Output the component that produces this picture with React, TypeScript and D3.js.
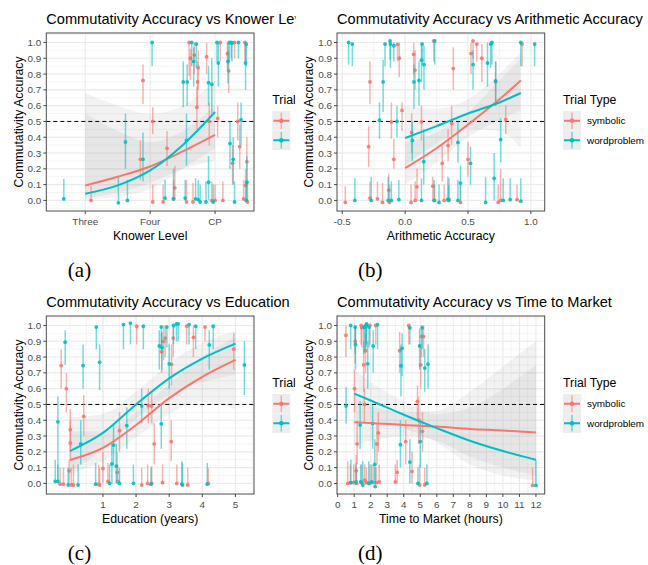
import * as d3 from "d3";
import React from "react";

const RED = "#F8766D";
const TEAL = "#00BFC4";
const FONT = "'Liberation Sans', Arial, sans-serif";

// each point: [x, mean, lower, upper]
// (a) knower level (Three = 1, Four = 2, CP = 3)
const knowerSymbolic = [
  [1.09, 0.0, 0.0, 0.09], [1.85, 0.26, 0.13, 0.38], [1.89, 0.76, 0.61, 0.86], [2.04, 0.5, 0.42, 0.59],
  [2.04, -0.01, -0.01, 0.1], [2.2, -0.01, -0.01, 0.1], [2.26, 0.33, 0.22, 0.44], [2.36, 0.01, 0.0, 0.13],
  [2.38, 0.08, 0.0, 0.22], [2.56, -0.01, -0.01, 0.13], [2.6, 1.0, 0.79, 1.0], [2.62, 0.9, 0.76, 0.96],
  [2.66, -0.01, -0.01, 0.11], [2.68, 0.92, 0.8, 1.0], [2.72, 0.59, 0.45, 0.72], [2.73, 0.75, 0.6, 0.88],
  [2.74, 0.84, 0.7, 0.95], [2.87, 0.91, 0.8, 1.0], [2.91, 0.5, 0.35, 0.62], [2.95, 0.0, 0.0, 0.12],
  [3.0, 0.0, 0.0, 0.1], [3.04, 0.52, 0.4, 0.6], [3.08, 1.0, 0.88, 1.0], [3.12, 0.0, 0.0, 0.12],
  [3.19, 0.93, 0.82, 1.0], [3.21, 0.82, 0.68, 0.95], [3.27, 0.235, 0.1, 0.35], [3.3, 1.0, 0.9, 1.0],
  [3.35, 0.5, 0.38, 0.62], [3.38, 0.34, 0.2, 0.48], [3.44, 0.01, 0.0, 0.13], [3.46, 1.0, 0.88, 1.0],
  [3.47, 0.095, 0.0, 0.2], [3.49, 0.245, 0.1, 0.4], [3.5, -0.01, -0.01, 0.12],
];
const knowerWord = [
  [0.67, 0.01, 0.0, 0.135], [1.51, -0.015, -0.015, 0.15], [1.62, 0.37, 0.2, 0.55], [1.65, 0.0, 0.0, 0.13],
  [1.89, 0.26, 0.12, 0.43], [2.03, 1.0, 0.85, 1.0], [2.23, 0.015, 0.0, 0.13], [2.36, 0.01, 0.0, 0.2],
  [2.51, 0.75, 0.59, 0.88], [2.54, 0.015, 0.0, 0.13], [2.56, 0.38, 0.22, 0.55], [2.57, 0.75, 0.6, 0.86],
  [2.64, 1.0, 0.85, 1.0], [2.67, 0.88, 0.72, 0.97], [2.7, 0.01, 0.0, 0.14], [2.71, 0.99, 0.84, 1.0],
  [2.74, 0.005, 0.0, 0.13], [2.77, -0.01, -0.01, 0.1], [2.86, -0.01, -0.01, 0.12], [2.9, 0.115, 0.0, 0.28],
  [2.9, 0.745, 0.6, 0.85], [2.95, 0.735, 0.55, 0.9], [2.97, -0.01, -0.01, 0.1], [3.03, 1.0, 0.88, 1.0],
  [3.05, 0.87, 0.72, 1.0], [3.2, 0.88, 0.74, 1.0], [3.22, 1.0, 0.88, 1.0], [3.23, 0.36, 0.2, 0.5],
  [3.25, 1.0, 0.9, 1.0], [3.26, 0.995, 0.88, 1.0], [3.28, 0.26, 0.1, 0.4], [3.3, -0.01, -0.01, 0.12],
  [3.36, 1.0, 0.9, 1.0], [3.4, 0.51, 0.35, 0.62], [3.47, 0.87, 0.7, 1.0], [3.48, 0.99, 0.85, 1.0],
  [3.49, 0.115, 0.0, 0.28], [3.48, 0.0, 0.0, 0.12],
];
const knowerFitX = [1, 1.5, 2, 2.5, 3];
const knowerFitSymbolic = [0.095, 0.15, 0.215, 0.31, 0.415];
const knowerFitWord = [0.042, 0.095, 0.19, 0.35, 0.56];
const knowerSymbolicLo = [0.015, 0.05, 0.11, 0.2, 0.25];
const knowerSymbolicHi = [0.55, 0.44, 0.37, 0.44, 0.6];
const knowerWordLo = [0.003, 0.025, 0.07, 0.2, 0.33];
const knowerWordHi = [0.68, 0.6, 0.55, 0.6, 0.76];

// (b) arithmetic accuracy
const arithSymbolic = [
  [-0.476, -0.013, -0.013, 0.09], [-0.29, 0.34, 0.21, 0.47], [-0.28, 0.75, 0.61, 0.88], [-0.28, 0.015, 0.0, 0.12],
  [-0.22, 0.01, 0.0, 0.12], [-0.18, -0.013, -0.013, 0.11], [-0.13, 0.065, 0.0, 0.17], [-0.125, -0.013, -0.013, 0.1],
  [-0.11, 0.497, 0.39, 0.62], [-0.09, 0.26, 0.2, 0.39], [-0.06, 0.987, 0.88, 1.0], [-0.047, 0.9, 0.78, 1.0],
  [-0.025, 0.57, 0.44, 0.62], [0.047, -0.013, -0.013, 0.1], [0.052, 0.43, 0.3, 0.55], [0.068, 0.925, 0.8, 1.0],
  [0.079, 0.825, 0.7, 0.95], [0.08, 0.0, 0.0, 0.12], [0.094, 0.086, 0.0, 0.2], [0.13, 0.497, 0.38, 0.6],
  [0.22, 0.09, 0.0, 0.15], [0.228, 1.01, 0.88, 1.01], [0.235, 0.0, 0.0, 0.1], [0.295, 0.234, 0.12, 0.35],
  [0.31, 0.0, 0.0, 0.1], [0.342, 0.347, 0.25, 0.45], [0.35, 0.005, 0.0, 0.14], [0.37, 0.487, 0.35, 0.6],
  [0.383, 0.835, 0.7, 0.97], [0.44, -0.013, -0.013, 0.1], [0.5, 0.26, 0.15, 0.37], [0.524, 0.93, 0.8, 1.0],
  [0.54, 1.01, 0.9, 1.01], [0.57, 0.99, 0.88, 1.0], [0.61, 0.9, 0.75, 0.99], [0.72, 0.75, 0.6, 0.88],
  [0.74, -0.013, -0.013, 0.1], [0.76, 0.0, 0.0, 0.2], [0.8, 0.513, 0.42, 0.6], [0.89, 0.005, 0.0, 0.1],
  [0.93, 0.99, 0.85, 1.0],
];
const arithWord = [
  [-0.45, 1.0, 0.86, 1.0], [-0.42, 0.99, 0.85, 1.0], [-0.4, 0.0, 0.0, 0.14], [-0.27, 0.0, 0.0, 0.15],
  [-0.204, 0.508, 0.39, 0.62], [-0.175, 0.75, 0.56, 0.89], [-0.16, 0.99, 0.85, 1.0], [-0.135, 0.0, 0.0, 0.15],
  [-0.12, 1.01, 0.89, 1.01], [-0.117, 0.99, 0.84, 1.0], [-0.11, 0.0, 0.0, 0.12], [-0.09, 0.98, 0.88, 1.0],
  [-0.065, 0.5, 0.4, 0.6], [-0.05, 0.005, 0.0, 0.13], [0.057, 0.38, 0.25, 0.5], [0.07, 0.75, 0.58, 0.86],
  [0.11, 0.76, 0.6, 0.88], [0.13, 0.888, 0.75, 1.0], [0.13, 0.0, 0.0, 0.14], [0.135, 0.99, 0.86, 1.0],
  [0.148, 0.245, 0.1, 0.45], [0.15, 0.86, 0.7, 0.98], [0.23, 0.0, 0.0, 0.13], [0.235, 1.01, 0.86, 1.01],
  [0.27, -0.013, -0.013, 0.1], [0.34, 0.008, 0.0, 0.15], [0.345, 0.0, 0.0, 0.1], [0.42, 0.367, 0.24, 0.5],
  [0.42, 0.0, 0.0, 0.13], [0.44, 0.11, 0.0, 0.22], [0.52, 0.235, 0.1, 0.34], [0.54, 0.86, 0.7, 0.95],
  [0.64, -0.013, -0.013, 0.15], [0.655, 0.87, 0.72, 1.0], [0.68, 0.99, 0.84, 1.0], [0.69, 1.0, 0.86, 1.0],
  [0.708, 0.14, 0.0, 0.3], [0.72, 0.757, 0.6, 0.88], [0.76, 0.385, 0.24, 0.52], [0.78, 0.0, 0.0, 0.14],
  [0.835, 0.005, 0.0, 0.14], [0.92, 1.0, 0.85, 1.0], [0.92, -0.005, -0.005, 0.14], [1.03, 0.99, 0.85, 1.0],
];
const arithFitX = [0, 0.25, 0.5, 0.75, 0.92];
const arithFitSymbolic = [0.205, 0.33, 0.48, 0.64, 0.76];
const arithFitWord = [0.395, 0.47, 0.55, 0.62, 0.68];
const arithSymbolicLo = [0.1, 0.24, 0.4, 0.51, 0.57];
const arithSymbolicHi = [0.37, 0.43, 0.56, 0.76, 0.9];
const arithWordLo = [0.22, 0.36, 0.45, 0.44, 0.33];
const arithWordHi = [0.6, 0.58, 0.64, 0.8, 0.94];

// (c) education
const eduSymbolic = [
  [-0.29, -0.005, -0.005, 0.1], [-0.26, 0.746, 0.6, 0.85], [-0.19, -0.005, -0.005, 0.1], [-0.105, 0.6, 0.45, 0.7],
  [-0.02, 0.08, 0.0, 0.15], [0.015, 0.256, 0.15, 0.4], [0.015, 0.34, 0.22, 0.47], [0.045, -0.01, -0.01, 0.1],
  [0.11, -0.01, -0.01, 0.12], [0.42, 0.425, 0.3, 0.56], [0.87, -0.005, -0.005, 0.12], [0.9, -0.01, -0.01, 0.1],
  [1.0, 0.095, 0.0, 0.2], [1.15, 0.013, 0.0, 0.13], [1.43, 0.07, 0.0, 0.2], [1.45, 0.013, 0.0, 0.12],
  [1.5, 0.334, 0.2, 0.45], [2.02, 0.995, 0.88, 1.0], [2.17, -0.01, -0.01, 0.1], [2.35, 0.0, 0.0, 0.12],
  [2.37, 0.493, 0.38, 0.6], [2.47, 0.49, 0.38, 0.58], [2.47, 0.0, 0.0, 0.11], [2.55, 0.25, 0.12, 0.38],
  [2.77, 0.833, 0.7, 0.95], [2.8, 0.005, 0.0, 0.12], [2.83, 0.9, 0.78, 1.0], [2.88, 0.92, 0.8, 1.0],
  [3.06, 0.264, 0.14, 0.4], [3.07, 0.754, 0.62, 0.88], [3.12, 0.92, 0.8, 1.0], [3.23, 0.0, 0.0, 0.12],
  [3.53, 0.995, 0.88, 1.0], [3.56, -0.01, -0.01, 0.1], [3.73, 0.925, 0.8, 1.0], [4.08, 0.99, 0.9, 1.0],
  [4.18, 0.0, 0.0, 0.1], [4.95, 0.85, 0.72, 0.95],
];
const eduWord = [
  [-0.44, 0.013, 0.0, 0.15], [-0.36, 0.013, 0.0, 0.12], [-0.36, 0.39, 0.02, 0.55], [-0.14, 0.894, 0.75, 0.97],
  [-0.05, -0.01, -0.01, 0.1], [0.25, -0.01, -0.01, 0.12], [0.33, 0.25, 0.12, 0.4], [0.4, 0.746, 0.6, 0.88],
  [0.78, -0.005, -0.005, 0.13], [0.8, 0.99, 0.85, 1.0], [0.9, 0.767, 0.59, 0.88], [1.2, 0.0, 0.0, 0.12],
  [1.27, 0.123, 0.0, 0.26], [1.32, 0.243, 0.12, 0.38], [1.4, 0.11, 0.0, 0.25], [1.5, 0.0, 0.0, 0.1],
  [1.62, 1.006, 0.85, 1.006], [1.72, 0.366, 0.22, 0.48], [1.83, 1.015, 0.88, 1.015], [1.92, 0.0, 0.0, 0.12],
  [2.17, 0.49, 0.38, 0.6], [2.22, 0.995, 0.85, 1.0], [2.45, -0.005, -0.005, 0.1], [2.7, 0.87, 0.72, 0.97],
  [2.76, 0.99, 0.85, 1.0], [2.76, 0.377, 0.22, 0.5], [2.78, 0.86, 0.72, 0.96], [2.93, 0.99, 0.86, 1.0],
  [3.0, 0.757, 0.6, 0.88], [3.13, 1.0, 0.88, 1.0], [3.22, 1.01, 0.9, 1.01], [3.27, 1.01, 0.9, 1.01],
  [3.38, -0.004, -0.004, 0.14], [3.4, -0.01, -0.01, 0.13], [3.6, 1.006, 0.88, 1.006], [3.8, 0.995, 0.85, 1.0],
  [4.15, -0.005, -0.005, 0.13], [4.21, 0.877, 0.72, 0.97], [4.33, 0.995, 0.85, 1.0], [5.27, 0.75, 0.56, 0.9],
];
const eduFitX = [0, 1, 2, 3, 4, 5];
const eduFitSymbolic = [0.148, 0.225, 0.37, 0.54, 0.675, 0.782];
const eduFitWord = [0.205, 0.32, 0.5, 0.665, 0.79, 0.885];
const eduSymbolicLo = [0.06, 0.14, 0.29, 0.44, 0.52, 0.47];
const eduSymbolicHi = [0.33, 0.33, 0.45, 0.63, 0.8, 0.93];
const eduWordLo = [0.08, 0.21, 0.41, 0.56, 0.64, 0.69];
const eduWordHi = [0.42, 0.44, 0.58, 0.76, 0.89, 0.965];

// (d) time to market
const marketSymbolic = [
  [0.5, 0.937, 0.8, 1.0], [0.61, 0.0, 0.0, 0.14], [0.77, 0.005, 0.0, 0.12], [0.97, 0.005, 0.0, 0.12],
  [1.02, 0.6, 0.45, 0.72], [1.06, 0.9, 0.76, 1.0], [1.12, 0.08, 0.0, 0.18], [1.15, 0.0, 0.0, 0.1],
  [1.18, 0.25, 0.12, 0.4], [1.42, 1.0, 0.88, 1.0], [1.44, 0.005, 0.0, 0.12], [1.46, 0.985, 0.86, 1.0],
  [1.58, 0.75, 0.58, 0.9], [1.62, 0.5, 0.38, 0.6], [1.64, 0.02, 0.0, 0.12], [1.69, 0.84, 0.7, 0.95],
  [1.72, 1.0, 0.88, 1.0], [1.74, 0.005, 0.0, 0.1], [1.95, 1.0, 0.88, 1.0], [1.95, 0.0, 0.0, 0.12],
  [2.15, 0.005, 0.0, 0.12], [2.3, 1.0, 0.88, 1.0], [2.35, 0.005, 0.0, 0.1], [2.38, 0.25, 0.12, 0.38],
  [2.46, 0.32, 0.2, 0.45], [2.52, 0.01, 0.0, 0.12], [3.49, 0.01, 0.0, 0.12], [3.6, 0.07, 0.0, 0.15],
  [3.75, 0.84, 0.7, 0.96], [4.12, 0.265, 0.12, 0.4], [4.3, 1.0, 0.88, 1.0], [4.5, 0.075, 0.0, 0.2],
  [4.83, 0.52, 0.4, 0.62], [4.9, 0.4, 0.25, 0.55], [4.96, -0.01, -0.01, 0.12], [5.03, 0.75, 0.6, 0.88],
  [5.07, 0.93, 0.8, 1.0], [5.13, 0.33, 0.2, 0.45], [5.2, 0.93, 0.8, 1.0], [5.27, -0.01, -0.01, 0.1],
  [11.8, -0.013, -0.013, 0.1],
];
const marketWord = [
  [0.51, 0.49, 0.38, 0.61], [0.79, 1.0, 0.85, 1.0], [0.8, 0.005, 0.0, 0.15], [1.06, 0.99, 0.82, 1.0],
  [1.08, 0.88, 0.72, 0.99], [1.1, 0.01, 0.0, 0.13], [1.36, 0.37, 0.22, 0.52], [1.4, 0.01, 0.0, 0.12],
  [1.52, -0.01, -0.01, 0.14], [1.58, 0.99, 0.82, 1.0], [1.65, 0.99, 0.85, 1.0], [1.72, 1.0, 0.86, 1.0],
  [1.75, 1.01, 0.88, 1.01], [1.82, 0.757, 0.6, 0.9], [1.88, 0.0, 0.0, 0.14], [1.9, 0.99, 0.86, 1.0],
  [2.05, 0.01, 0.0, 0.12], [2.12, 0.38, 0.22, 0.5], [2.15, 0.87, 0.7, 0.97], [2.25, 0.12, 0.0, 0.28],
  [2.27, -0.02, -0.02, 0.1], [2.41, 1.005, 0.85, 1.005], [3.8, 0.245, 0.1, 0.4], [3.83, 0.745, 0.55, 0.88],
  [3.9, 0.855, 0.68, 0.95], [4.37, 0.985, 0.88, 1.0], [4.37, 0.135, 0.0, 0.28], [4.86, 0.0, 0.0, 0.1],
  [4.96, 0.87, 0.72, 0.98], [5.0, 0.265, 0.1, 0.4], [5.12, 0.985, 0.85, 1.0], [5.27, 0.73, 0.58, 0.85],
  [5.4, 0.0, 0.0, 0.12], [5.47, 0.755, 0.6, 0.88], [12.0, -0.013, -0.013, 0.15],
];
const marketFitX = [1, 2, 4, 6, 8, 10, 12];
const marketFitSymbolic = [0.387, 0.383, 0.37, 0.36, 0.345, 0.335, 0.322];
const marketFitWord = [0.569, 0.525, 0.435, 0.35, 0.27, 0.205, 0.15];
const marketSymbolicLo = [0.24, 0.27, 0.3, 0.27, 0.17, 0.1, 0.05];
const marketSymbolicHi = [0.56, 0.5, 0.45, 0.46, 0.58, 0.74, 0.9];
const marketWordLo = [0.41, 0.4, 0.35, 0.26, 0.12, 0.05, 0.02];
const marketWordHi = [0.72, 0.64, 0.52, 0.44, 0.48, 0.6, 0.75];

const yBreaks = d3.range(0, 11).map((i) => i / 10);
const yMinor = d3.range(-1, 22).map((i) => i / 20);
const legendLabels = ["symbolic", "wordproblem"];

// plot box inside each panel image
const L = 46.3, R = 254, T = 33, B = 211;

function Panel(p: any) {
  const x = d3.scaleLinear().domain(p.xDomain).range([L, R]);
  const y = d3.scaleLinear().domain([-0.067, 1.06]).range([B, T]);
  const fitLine = (vals: number[]) =>
    d3.line<number>().x((_, i) => x(p.fitX[i])).y((d) => y(d)).curve(d3.curveMonotoneX)(vals) || "";
  const band = (lo: number[], hi: number[]) =>
    d3.area<number>().x((d) => x(d)).y0((_, i) => y(lo[i])).y1((_, i) => y(hi[i])).curve(d3.curveMonotoneX)(p.fitX) || "";
  const inX = (v: number) => v >= p.xDomain[0] && v <= p.xDomain[1];
  const series = [
    { pts: p.sym, color: RED },
    { pts: p.word, color: TEAL },
  ];
  const lx = 272.3;

  return (
    <g transform={`translate(${p.ox},${p.oy})`}>
      {p.cover && <rect x={295.5 - p.ox} y={0} width={400} height={282} fill="#fff" />}
      <text x={L} y={24} fontSize={14.6} fontFamily={FONT} fill="#000">{p.title}</text>
      {/* grid */}
      {yMinor.map((v) => (
        <line key={"ym" + v} x1={L} x2={R} y1={y(v)} y2={y(v)} stroke="#EBEBEB" strokeWidth={0.55} />
      ))}
      {p.xMinor.filter(inX).map((v: number) => (
        <line key={"xm" + v} y1={T} y2={B} x1={x(v)} x2={x(v)} stroke="#EBEBEB" strokeWidth={0.55} />
      ))}
      {yBreaks.map((v) => (
        <line key={"yg" + v} x1={L} x2={R} y1={y(v)} y2={y(v)} stroke="#EBEBEB" strokeWidth={1.1} />
      ))}
      {p.xBreaks.map((v: number) => (
        <line key={"xg" + v} y1={T} y2={B} x1={x(v)} x2={x(v)} stroke="#EBEBEB" strokeWidth={1.1} />
      ))}
      {/* confidence bands */}
      <path d={band(p.symLo, p.symHi)} fill="#999" fillOpacity={0.13} />
      <path d={band(p.wordLo, p.wordHi)} fill="#999" fillOpacity={0.13} />
      <line x1={L} x2={R} y1={y(0.5)} y2={y(0.5)} stroke="#000" strokeWidth={1} strokeDasharray="4,3" />
      {/* pointranges */}
      {series.map((s, si) => (
        <g key={"s" + si}>
          {s.pts.map((d: number[], i: number) => (
            <g key={i}>
              <line x1={x(d[0])} x2={x(d[0])} y1={y(d[2])} y2={y(d[3])} stroke={s.color} strokeWidth={1.5} strokeOpacity={0.55} />
              <circle cx={x(d[0])} cy={y(d[1])} r={1.9} fill={s.color} fillOpacity={0.9} />
            </g>
          ))}
        </g>
      ))}
      <path d={fitLine(p.fitSym)} fill="none" stroke={RED} strokeWidth={2} />
      <path d={fitLine(p.fitWord)} fill="none" stroke={TEAL} strokeWidth={2} />
      <rect x={L} y={T} width={R - L} height={B - T} fill="none" stroke="#4d4d4d" strokeWidth={1} />
      {/* y axis */}
      {yBreaks.map((v) => (
        <g key={"yt" + v}>
          <line x1={L - 3} x2={L} y1={y(v)} y2={y(v)} stroke="#333" strokeWidth={0.9} />
          <text x={L - 5} y={y(v)} dy="0.35em" textAnchor="end" fontSize={9.9} fontFamily={FONT} fill="#4D4D4D">
            {d3.format(".1f")(v)}
          </text>
        </g>
      ))}
      <text transform={`translate(22.5,${(T + B) / 2}) rotate(-90)`} textAnchor="middle" fontSize={12.3} fontFamily={FONT} fill="#000">
        Commutativity Accuracy
      </text>
      {/* x axis */}
      {p.xBreaks.map((v: number, i: number) => (
        <g key={"xt" + v}>
          <line x1={x(v)} x2={x(v)} y1={B} y2={B + 3} stroke="#333" strokeWidth={0.9} />
          <text x={x(v)} y={B + 13.5} textAnchor="middle" fontSize={9.9} fontFamily={FONT} fill="#4D4D4D">
            {p.xLabels[i]}
          </text>
        </g>
      ))}
      <text x={(L + R) / 2} y={239.5} textAnchor="middle" fontSize={12.3} fontFamily={FONT} fill="#000">
        {p.xLabel}
      </text>
      {/* legend: the left-hand panels are overlapped by their neighbour, only "Trial" and the keys show */}
      <text x={lx} y={103.7} fontSize={12.3} fontFamily={FONT} fill="#000">{p.cover ? "Trial Type" : "Trial"}</text>
      {series.map((s, i) => {
        const ky = 111 + i * 19.5;
        return (
          <g key={"lg" + i}>
            <rect x={lx} y={ky} width={18} height={19.5} fill="#EDEDED" />
            <line x1={lx + 9} x2={lx + 9} y1={ky + 1.5} y2={ky + 18} stroke={s.color} strokeWidth={1.5} strokeOpacity={0.55} />
            <line x1={lx + 1} x2={lx + 17} y1={ky + 9.75} y2={ky + 9.75} stroke={s.color} strokeWidth={2} />
            <circle cx={lx + 9} cy={ky + 9.75} r={2.2} fill={s.color} />
            {p.cover && (
              <text x={lx + 24} y={ky + 9.75} dy="0.35em" fontSize={9.9} fontFamily={FONT} fill="#000">
                {legendLabels[i]}
              </text>
            )}
          </g>
        );
      })}
      <text x={79.5} y={277} textAnchor="middle" fontSize={21} fontFamily="'Liberation Serif', 'Times New Roman', serif" fill="#000">
        {p.tag}
      </text>
    </g>
  );
}

export default function App() {
  return (
    <svg width={648} height={565} style={{ position: "absolute", left: 0, top: 0, background: "#fff" }}>
      <rect width={648} height={565} fill="#fff" />
      <Panel
        ox={0} oy={0} cover={false} tag="(a)"
        title="Commutativity Accuracy vs Knower Level" xLabel="Knower Level"
        xDomain={[0.4, 3.6]} xBreaks={[1, 2, 3]} xLabels={["Three", "Four", "CP"]} xMinor={[]}
        sym={knowerSymbolic} word={knowerWord} fitX={knowerFitX}
        fitSym={knowerFitSymbolic} fitWord={knowerFitWord}
        symLo={knowerSymbolicLo} symHi={knowerSymbolicHi} wordLo={knowerWordLo} wordHi={knowerWordHi}
      />
      <Panel
        ox={0} oy={283} cover={false} tag="(c)"
        title="Commutativity Accuracy vs Education" xLabel="Education (years)"
        xDomain={[-0.71, 5.56]} xBreaks={[1, 2, 3, 4, 5]} xLabels={["1", "2", "3", "4", "5"]}
        xMinor={d3.range(0, 12).map((i) => i / 2)}
        sym={eduSymbolic} word={eduWord} fitX={eduFitX}
        fitSym={eduFitSymbolic} fitWord={eduFitWord}
        symLo={eduSymbolicLo} symHi={eduSymbolicHi} wordLo={eduWordLo} wordHi={eduWordHi}
      />
      <Panel
        ox={290.7} oy={0} cover={true} tag="(b)"
        title="Commutativity Accuracy vs Arithmetic Accuracy" xLabel="Arithmetic Accuracy"
        xDomain={[-0.542, 1.11]} xBreaks={[-0.5, 0, 0.5, 1]} xLabels={["-0.5", "0.0", "0.5", "1.0"]}
        xMinor={[-0.25, 0.25, 0.75]}
        sym={arithSymbolic} word={arithWord} fitX={arithFitX}
        fitSym={arithFitSymbolic} fitWord={arithFitWord}
        symLo={arithSymbolicLo} symHi={arithSymbolicHi} wordLo={arithWordLo} wordHi={arithWordHi}
      />
      <Panel
        ox={290.7} oy={283} cover={true} tag="(d)"
        title="Commutativity Accuracy vs Time to Market" xLabel="Time to Market (hours)"
        xDomain={[-0.04, 12.53]} xBreaks={d3.range(0, 13)} xLabels={d3.range(0, 13).map(String)}
        xMinor={d3.range(0, 13).map((i) => i + 0.5)}
        sym={marketSymbolic} word={marketWord} fitX={marketFitX}
        fitSym={marketFitSymbolic} fitWord={marketFitWord}
        symLo={marketSymbolicLo} symHi={marketSymbolicHi} wordLo={marketWordLo} wordHi={marketWordHi}
      />
    </svg>
  );
}
